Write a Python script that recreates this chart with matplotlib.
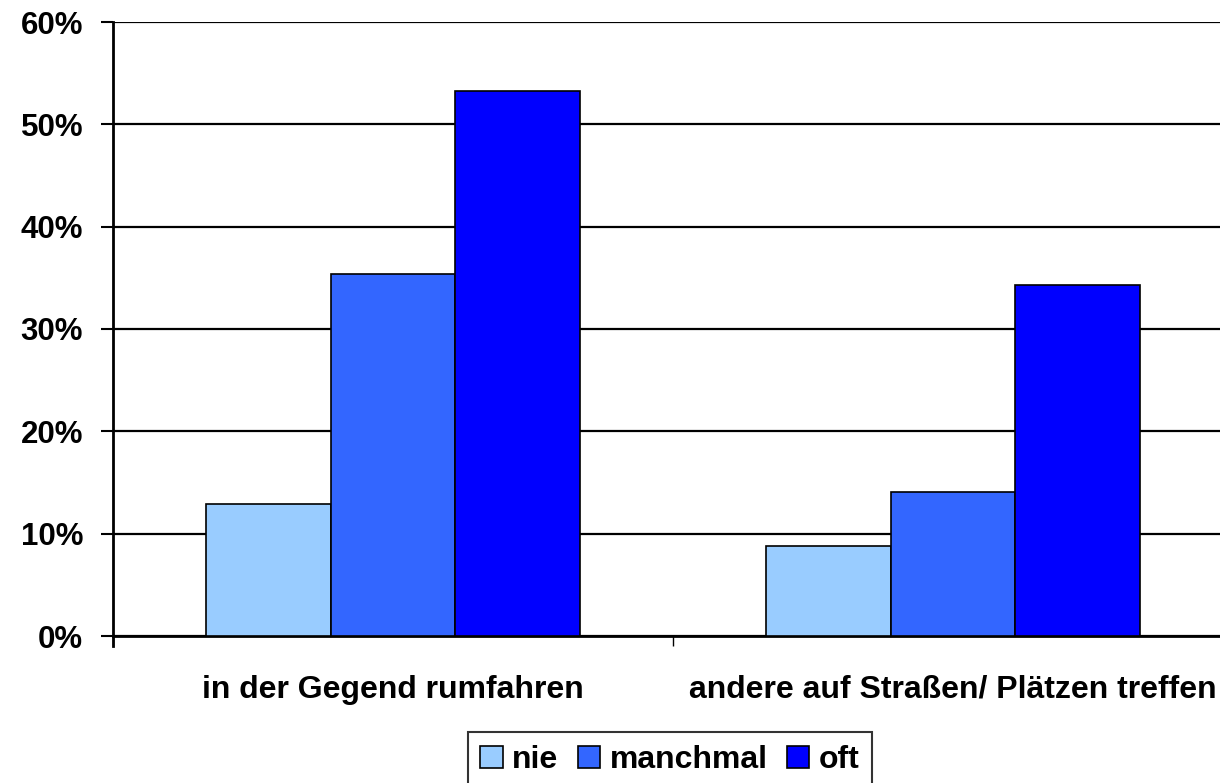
import numpy as np
import matplotlib
matplotlib.use('Agg')
import matplotlib.pyplot as plt
from matplotlib.ticker import FuncFormatter

plt.rcParams['font.family'] = ['Liberation Sans', 'DejaVu Sans']
plt.rcParams['font.weight'] = 'bold'

# ------ data ------
categories = ['in der Gegend rumfahren', 'andere auf Straßen/ Plätzen treffen']
series = ['nie', 'manchmal', 'oft']
nie = [12.9, 8.8]
manchmal = [35.4, 14.1]
oft = [53.3, 34.3]
colors = ['#99CCFF', '#3366FF', '#0000FF']

# ------ plot ------
fig = plt.figure(figsize=(12.2, 7.83), dpi=100)
ax = fig.add_axes([113 / 1220, 147 / 783, 1120 / 1220, 614 / 783])

x = np.arange(len(categories)) + 0.5
w = 0.223
for i, (vals, name) in enumerate(zip([nie, manchmal, oft], series)):
    ax.bar(x + (i - 1) * w, vals, width=w, color=colors[i], edgecolor='black',
           linewidth=1.2, label=name, zorder=3)

ax.set_ylim(0, 60)
ax.set_xlim(0, len(categories))
ax.set_yticks(np.arange(0, 61, 10))
ax.yaxis.set_major_formatter(FuncFormatter(lambda v, p: f'{v:.0f}%'))
ax.grid(axis='y', color='black', linewidth=1.6, zorder=0)
ax.set_xticks(np.arange(0, len(categories) + 1))
ax.set_xticklabels([])
ax.set_xticks(x, minor=True)
ax.set_xticklabels(categories, minor=True, fontsize=23, fontweight='bold')
ax.tick_params(axis='x', which='minor', length=0, pad=28)
ax.tick_params(axis='x', which='major', length=7, width=1, direction='out')
ax.tick_params(axis='y', length=8.5, width=1.5, labelsize=22.5, pad=13)
for lab in ax.get_yticklabels():
    lab.set_fontweight('bold')
for s in ['top', 'right']:
    ax.spines[s].set_visible(False)
ax.spines['left'].set_linewidth(2)
ax.spines['bottom'].set_linewidth(2)
ax.spines['left'].set_bounds(-1, 60)

leg = ax.legend(loc='center', bbox_to_anchor=(670 / 1220, 1 - 760 / 783),
                bbox_transform=fig.transFigure, ncol=3, frameon=True,
                fancybox=False, edgecolor='black',
                prop={'weight': 'bold', 'size': 23},
                handlelength=0.7, handleheight=0.7, handletextpad=0.3,
                columnspacing=0.6, borderpad=0.4)
leg.get_frame().set_linewidth(1.5)

fig.savefig('out.png', dpi=100)
